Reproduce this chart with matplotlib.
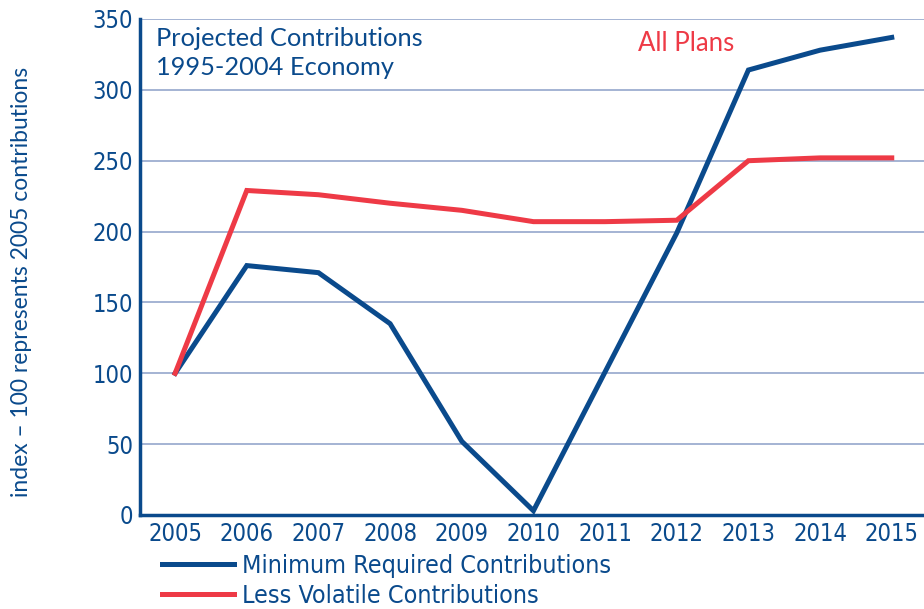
import matplotlib.pyplot as plt
from matplotlib import font_manager

# Data
years = [2005, 2006, 2007, 2008, 2009, 2010, 2011, 2012, 2013, 2014, 2015]
min_required = [100, 176, 171, 135, 52, 3, 101, 199, 314, 328, 337]
less_volatile = [100, 229, 226, 220, 215, 207, 207, 208, 250, 252, 252]
yticks = [0, 50, 100, 150, 200, 250, 300, 350]

blue = '#0a4a8c'
red = '#ee3a46'
grid_col = '#95a7cc'

cond = font_manager.FontProperties(family='DejaVu Sans', stretch='condensed', size=17)
wide = ['Lato', 'DejaVu Sans']

fig = plt.figure(figsize=(9.24, 6.09), dpi=100)
ax = fig.add_axes([140 / 924, 1 - 515 / 609, 1 - 140 / 924, (515 - 19) / 609])

ax.plot(years, min_required, color=blue, lw=3.6, solid_joinstyle='miter',
        label='Minimum Required Contributions', zorder=3)
ax.plot(years, less_volatile, color=red, lw=3.6, solid_joinstyle='miter',
        label='Less Volatile Contributions', zorder=3)

ax.set_xlim(2004.51, 2015.45)
ax.set_ylim(0, 350)
ax.set_xticks(years)
ax.set_yticks(yticks)
for y in yticks[1:]:
    ax.axhline(y, color=grid_col, lw=1.2, zorder=1)

for s in ['top', 'right']:
    ax.spines[s].set_visible(False)
for s in ['left', 'bottom']:
    ax.spines[s].set_color(blue)
    ax.spines[s].set_linewidth(2.5)
ax.tick_params(length=0, labelcolor=blue, pad=5)
for lab in ax.get_xticklabels() + ax.get_yticklabels():
    lab.set_fontproperties(cond)

fig.text(22 / 924, 1 - 282 / 609, 'index \u2013 100 represents 2005 contributions',
         rotation=90, va='center', ha='center', color=blue, fontsize=16.5, family=wide)

ax.text(0.02, 0.983, 'Projected Contributions\n1995-2004 Economy', transform=ax.transAxes,
        va='top', ha='left', color=blue, fontsize=18.3, family=wide, linespacing=1.3)
ax.text(2012.13, 333, 'All Plans', color=red, fontsize=18.5, ha='center', va='center',
        family=wide)

fig.legend(loc='upper left', bbox_to_anchor=(149 / 924, 1 - 541 / 609), frameon=False,
           prop=font_manager.FontProperties(family='DejaVu Sans', stretch='condensed', size=18),
           labelcolor=blue, handlelength=2.9, handletextpad=0.33,
           labelspacing=0.25, borderpad=0)

fig.savefig('out.png', dpi=100)
